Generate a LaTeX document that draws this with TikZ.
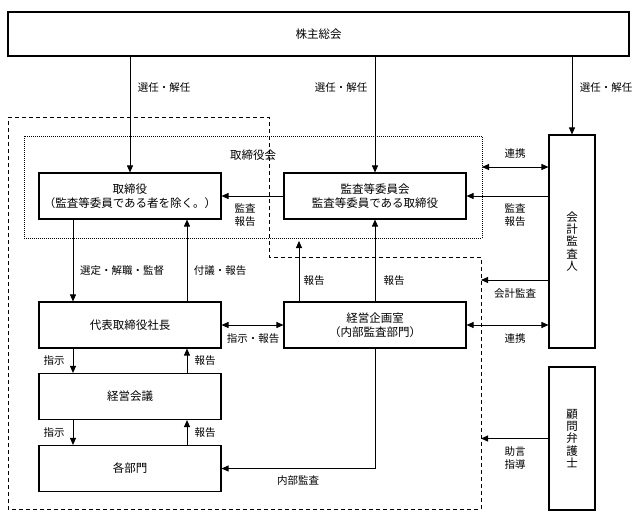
\documentclass[tikz,border=0pt]{standalone}
\usepackage{fontspec}
\newfontfamily\jpfont{Noto Sans CJK JP}
\usetikzlibrary{arrows.meta}

\begin{document}
\begin{tikzpicture}[x=1pt,y=-1pt,
				every node/.style={font=\jpfont\fontsize{11.5}{13.5}\selectfont},
				box/.style={draw,line width=1.1pt,align=center,inner sep=0pt},
				wbox/.style={box,minimum width=182pt,minimum height=46pt},
				tbox/.style={box,minimum width=46pt,font=\jpfont\fontsize{11.5}{12.3}\selectfont},
				lbl/.style={align=center,inner sep=0pt,font=\jpfont\fontsize{10.5}{12.5}\selectfont},
				arr/.style={line width=0.9pt,-{Triangle[length=7pt,width=6pt]}},
				dbl/.style={line width=0.9pt,{Triangle[length=7pt,width=6pt]}-{Triangle[length=7pt,width=6pt]}}]
\useasboundingbox (0,0) rectangle (643,523);
\draw[line width=0.9pt,dash pattern=on 4pt off 3pt] (8,117) -- (269,117) -- (269,257) -- (481,257) -- (481,509) -- (8,509) -- cycle;
\draw[line width=0.9pt,dash pattern=on 1pt off 1pt] (24,136) rectangle (482,238);
\coordinate (bd) at (482,238);
\coordinate (r1) at (482,167);
\coordinate (r2) at (481,280);
\coordinate (r3) at (481,439);
\node[box,minimum width=621pt,minimum height=44pt] (soukai) at (318.5,34) {株主総会};
\node[wbox] (tori) at (130,196) {取締役\\（監査等委員である者を除く。）};
\node[wbox] (kansa) at (375,196) {監査等委員会\\監査等委員である取締役};
\node[tbox,minimum height=213pt] (kaikei) at (572,241.5) {会\\計\\監\\査\\人};
\node[wbox] (daihyo) at (130,325) {代表取締役社長};
\node[wbox] (kikaku) at (375,325) {経営企画室\\（内部監査部門）};
\node[wbox] (kaigi) at (130,396.5) {経営会議};
\node[wbox] (bumon) at (130,468.5) {各部門};
\node[tbox,minimum height=143pt] (komon) at (572,438.5) {顧\\問\\弁\\護\\士};
\node (kaigiL) at (253,155) {取締役会};
\draw[arr] (soukai.south -| tori.north) -- (tori.north);
\draw[arr] (soukai.south -| kansa.north) -- (kansa.north);
\draw[arr] (soukai.south -| kaikei.north) -- (kaikei.north);
\draw[arr] (kansa.west) -- (tori.east);
\draw[dbl] (r1) -- (r1 -| kaikei.west);
\draw[arr] (kaikei.west |- kansa.east) -- (kansa.east);
\draw[arr] (r2 -| kaikei.west) -- (r2);
\draw[dbl] (daihyo.east) -- (kikaku.west);
\draw[dbl] (kikaku.east) -- (kikaku.east -| kaikei.west);
\draw[arr] (komon.west) -- (komon.west -| r3);
\draw[arr] ([xshift=-57pt]tori.south) -- ([xshift=-57pt]daihyo.north);
\draw[arr] ([xshift=57pt]daihyo.north) -- ([xshift=57pt]tori.south);
\draw[arr] ([xshift=-57pt]daihyo.south) -- ([xshift=-57pt]kaigi.north);
\draw[arr] ([xshift=57pt]kaigi.north) -- ([xshift=57pt]daihyo.south);
\draw[arr] ([xshift=-57pt]kaigi.south) -- ([xshift=-57pt]bumon.north);
\draw[arr] ([xshift=57pt]bumon.north) -- ([xshift=57pt]kaigi.south);
\coordinate (k1) at ([xshift=-76pt]kikaku.north);
\draw[arr] (k1) -- ([yshift=-3pt]k1 |- bd);
\draw[arr] (kikaku.north) -- (kansa.south);
\draw[arr] (kikaku.south) |- (bumon.east);
\node[lbl] (l1) at (164,88) {選任・解任};
\node[lbl] (l2) at (341,88) {選任・解任};
\node[lbl] (l3) at (606,88) {選任・解任};
\node[lbl] (l4) at (245,215) {監査\\報告};
\node[lbl] (l5) at (515,215) {監査\\報告};
\node[lbl] (l6) at (515,154) {連携};
\node[lbl] (l7) at (515,294) {会計監査};
\node[lbl] (l8) at (122,271) {選定・解職・監督};
\node[lbl] (l9) at (220,271) {付議・報告};
\node[lbl] (l10) at (314,281) {報告};
\node[lbl] (l11) at (394,281) {報告};
\node[lbl] (l12) at (253,339) {指示・報告};
\node[lbl] (l13) at (515,339) {連携};
\node[lbl] (l14) at (54,361) {指示};
\node[lbl] (l15) at (205,361) {報告};
\node[lbl] (l16) at (54,433) {指示};
\node[lbl] (l17) at (205,433) {報告};
\node[lbl] (l18) at (298,481) {内部監査};
\node[lbl] (l19) at (515,458) {助言\\指導};
\end{tikzpicture}
\end{document}
